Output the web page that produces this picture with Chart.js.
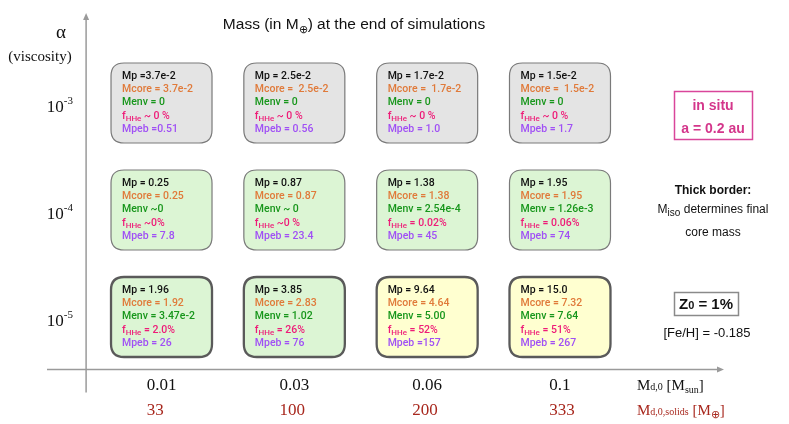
<!DOCTYPE html>
<html><head><meta charset="utf-8">
<script src="https://cdn.jsdelivr.net/npm/chart.js@4"></script>
<style>html,body{margin:0;padding:0;background:#fff}#wrap{width:789px;height:424px;position:relative}</style>
</head><body><div id="wrap"><canvas id="c"></canvas></div>
<script>
// ---- data ----
const diskMassSun = ['0.01', '0.03', '0.06', '0.1'];
const diskSolidsEarth = ['33', '100', '200', '333'];
const alphaExponents = ['-3', '-4', '-5']; // rows top -> bottom
const mpValues = [
  ['=3.7e-2', '= 2.5e-2', '= 1.7e-2', '= 1.5e-2'],
  ['= 0.25', '= 0.87', '= 1.38', '= 1.95'],
  ['= 1.96', '= 3.85', '= 9.64', '= 15.0']
];
const mcoreValues = [
  ['= 3.7e-2', '=  2.5e-2', '=  1.7e-2', '=  1.5e-2'],
  ['= 0.25', '= 0.87', '= 1.38', '= 1.95'],
  ['= 1.92', '= 2.83', '= 4.64', '= 7.32']
];
const menvValues = [
  ['= 0', '= 0', '= 0', '= 0'],
  ['~0', '~ 0', '= 2.54e-4', '= 1.26e-3'],
  ['= 3.47e-2', '= 1.02', '= 5.00', '= 7.64']
];
const fhheValues = [
  ['~ 0 %', '~ 0 %', '~ 0 %', '~ 0 %'],
  ['~0%', '~0 %', '= 0.02%', '= 0.06%'],
  ['= 2.0%', '= 26%', '= 52%', '= 51%']
];
const mpebValues = [
  ['=0.51', '= 0.56', '= 1.0', '= 1.7'],
  ['= 7.8', '= 23.4', '= 45', '= 74'],
  ['= 26', '= 76', '=157', '= 267']
];
const outcome = [
  ['bare', 'bare', 'bare', 'bare'],
  ['core', 'core', 'core', 'core'],
  ['core', 'core', 'giant', 'giant']
];
const isoLimited = [
  [false, false, false, false],
  [false, false, false, false],
  [true, true, true, true]
];

// ---- styles ----
const fills = { bare: '#e4e4e4', core: '#dcf5d4', giant: '#ffffd0' };
const lineColors = ['#111111', '#e07a3a', '#17961b', '#ee1c78', '#a050f5'];
const SANS = '"Liberation Sans", Arial, sans-serif';
const SERIF = '"Liberation Serif", "Times New Roman", serif';
const BOXF = 'Roboto, sans-serif';

const points = [];
for (let r = 0; r < alphaExponents.length; r++)
  for (let c = 0; c < diskMassSun.length; c++)
    points.push({ x: c, y: alphaExponents.length - 1 - r, r, c });

function measureRich(ctx, segs, family) {
  let w = 0;
  segs.forEach(s => { ctx.font = `${s.w || 'normal'} ${s.s}px ${family}`; s._w = ctx.measureText(s.t).width; w += s._w; });
  return w;
}
function drawRich(ctx, x, y, segs, family, align, color) {
  const w = measureRich(ctx, segs, family);
  let cx = align === 'center' ? x - w / 2 : align === 'right' ? x - w : x;
  ctx.textAlign = 'left'; ctx.textBaseline = 'alphabetic';
  segs.forEach(s => {
    ctx.font = `${s.w || 'normal'} ${s.s}px ${family}`;
    ctx.fillStyle = s.c || color;
    ctx.fillText(s.t, cx, y + (s.dy || 0));
    cx += s._w;
  });
  return w;
}

function rrect(ctx, x, y, w, h, r) {
  ctx.beginPath();
  ctx.moveTo(x + r, y); ctx.lineTo(x + w - r, y); ctx.quadraticCurveTo(x + w, y, x + w, y + r);
  ctx.lineTo(x + w, y + h - r); ctx.quadraticCurveTo(x + w, y + h, x + w - r, y + h);
  ctx.lineTo(x + r, y + h); ctx.quadraticCurveTo(x, y + h, x, y + h - r);
  ctx.lineTo(x, y + r); ctx.quadraticCurveTo(x, y, x + r, y); ctx.closePath();
}

const diagramPlugin = {
  id: 'diagram',
  afterDatasetsDraw(chart) {
    const ctx = chart.ctx;
    const xs = chart.scales.x, ys = chart.scales.y, ca = chart.chartArea;
    ctx.save();
    // axes
    const axX = ca.left - 9, axY = ca.bottom - 1;
    ctx.strokeStyle = '#9a9a9a'; ctx.fillStyle = '#9a9a9a'; ctx.lineWidth = 1.5;
    ctx.beginPath(); ctx.moveTo(axX, axY + 23); ctx.lineTo(axX, 18); ctx.stroke();
    ctx.beginPath(); ctx.moveTo(axX, 13); ctx.lineTo(axX - 3, 20); ctx.lineTo(axX + 3, 20); ctx.closePath(); ctx.fill();
    ctx.beginPath(); ctx.moveTo(47, axY); ctx.lineTo(718, axY); ctx.stroke();
    ctx.beginPath(); ctx.moveTo(724, axY); ctx.lineTo(717, axY - 3); ctx.lineTo(717, axY + 3); ctx.closePath(); ctx.fill();

    // title
    drawRich(ctx, 354, 29, [
      { t: 'Mass (in M', s: 15.5 }, { t: '\u2295', s: 11, dy: 3.5 }, { t: ') at the end of simulations', s: 15.5 }
    ], SANS, 'center', '#111');

    // y axis title
    drawRich(ctx, 61, 38, [{ t: '\u03b1', s: 19 }], SERIF, 'center', '#111');
    drawRich(ctx, 40, 61, [{ t: '(viscosity)', s: 15 }], SERIF, 'center', '#111');

    // y ticks
    alphaExponents.forEach((e, r) => {
      const py = ys.getPixelForValue(alphaExponents.length - 1 - r);
      drawRich(ctx, 73, py + 9, [{ t: '10', s: 17 }, { t: e, s: 11, dy: -8 }], SERIF, 'right', '#111');
    });

    // x ticks
    diskMassSun.forEach((m, c) => {
      const px = xs.getPixelForValue(c);
      const w = measureRich(ctx, [{ t: m, s: 17 }], SERIF);
      drawRich(ctx, px - w / 2, 390, [{ t: m, s: 17 }], SERIF, 'left', '#111');
      drawRich(ctx, px - w / 2, 415, [{ t: diskSolidsEarth[c], s: 17 }], SERIF, 'left', '#a8281e');
    });
    drawRich(ctx, 637, 390, [
      { t: 'M', s: 15 }, { t: 'd,0', s: 10, dy: 0 }, { t: ' [M', s: 15 }, { t: 'sun', s: 10, dy: 3 }, { t: ']', s: 15 }
    ], SERIF, 'left', '#111');
    drawRich(ctx, 637, 415, [
      { t: 'M', s: 15 }, { t: 'd,0,solids', s: 10, dy: 0 }, { t: ' [M', s: 15 }, { t: '\u2295', s: 11, dy: 3 }, { t: ']', s: 15 }
    ], SERIF, 'left', '#a8281e');

    // boxes
    const meta = chart.getDatasetMeta(0);
    meta.data.forEach((el, i) => {
      const p = points[i];
      const w = 101, h = 80;
      const bx = el.x - w / 2, by = el.y - h / 2;
      rrect(ctx, bx, by, w, h, 13);
      ctx.fillStyle = fills[outcome[p.r][p.c]];
      ctx.fill();
      ctx.lineWidth = isoLimited[p.r][p.c] ? 2.3 : 1.2;
      ctx.strokeStyle = isoLimited[p.r][p.c] ? '#5a5a5a' : '#7a7a7a';
      ctx.stroke();
      const tx = bx + 11;
      const base = by + 16;
      const lh = 13.2;
      const fs = 10.5, fw = 500;
      drawRich(ctx, tx, base, [{ t: 'Mp ' + mpValues[p.r][p.c], s: fs, w: fw }], BOXF, 'left', lineColors[0]);
      drawRich(ctx, tx, base + lh, [{ t: 'Mcore ' + mcoreValues[p.r][p.c], s: fs, w: fw }], BOXF, 'left', lineColors[1]);
      drawRich(ctx, tx, base + 2 * lh, [{ t: 'Menv ' + menvValues[p.r][p.c], s: fs, w: fw }], BOXF, 'left', lineColors[2]);
      drawRich(ctx, tx, base + 3 * lh, [{ t: 'f', s: fs, w: fw }, { t: 'HHe', s: 8, w: fw, dy: 2.5 }, { t: ' ' + fhheValues[p.r][p.c], s: fs, w: fw }], BOXF, 'left', lineColors[3]);
      drawRich(ctx, tx, base + 4 * lh, [{ t: 'Mpeb ' + mpebValues[p.r][p.c], s: fs, w: fw }], BOXF, 'left', lineColors[4]);
    });

    // annotations on the right
    ctx.strokeStyle = '#d9469a'; ctx.lineWidth = 1.5;
    ctx.strokeRect(674.5, 91.5, 78, 48);
    drawRich(ctx, 713, 110, [{ t: 'in situ', s: 14, w: 'bold' }], SANS, 'center', '#d4368b');
    drawRich(ctx, 713, 133, [{ t: 'a = 0.2 au', s: 14, w: 'bold' }], SANS, 'center', '#d4368b');

    drawRich(ctx, 713, 194, [{ t: 'Thick border:', s: 12, w: 'bold' }], SANS, 'center', '#111');
    drawRich(ctx, 713, 213, [{ t: 'M', s: 12 }, { t: 'iso', s: 10, dy: 3 }, { t: ' determines final', s: 12 }], SANS, 'center', '#111');
    drawRich(ctx, 713, 236, [{ t: 'core mass', s: 12 }], SANS, 'center', '#111');

    ctx.strokeStyle = '#8a8a8a'; ctx.lineWidth = 1.5;
    ctx.strokeRect(674.5, 292.5, 64, 23);
    drawRich(ctx, 706, 309, [{ t: 'Z', s: 15, w: 'bold' }, { t: '0', s: 11, w: 'bold' }, { t: ' = 1%', s: 15, w: 'bold' }], SANS, 'center', '#111');
    drawRich(ctx, 707, 337, [{ t: '[Fe/H] = -0.185', s: 13 }], SANS, 'center', '#111');
    ctx.restore();
  }
};

new Chart(document.getElementById('c'), {
  type: 'scatter',
  data: { datasets: [{ data: points.map(p => ({ x: p.x, y: p.y })), pointRadius: 0, pointHoverRadius: 0 }] },
  options: {
    responsive: true, maintainAspectRatio: false, animation: false,
    layout: { padding: { left: 95.1, right: 162.6, top: 49.5, bottom: 53.5 } },
    scales: {
      x: { type: 'linear', min: -0.5, max: 3.5, display: false },
      y: { type: 'linear', min: -0.5, max: 2.5, display: false }
    },
    plugins: { legend: { display: false }, tooltip: { enabled: false } },
    events: []
  },
  plugins: [diagramPlugin]
});
</script>
</body></html>
